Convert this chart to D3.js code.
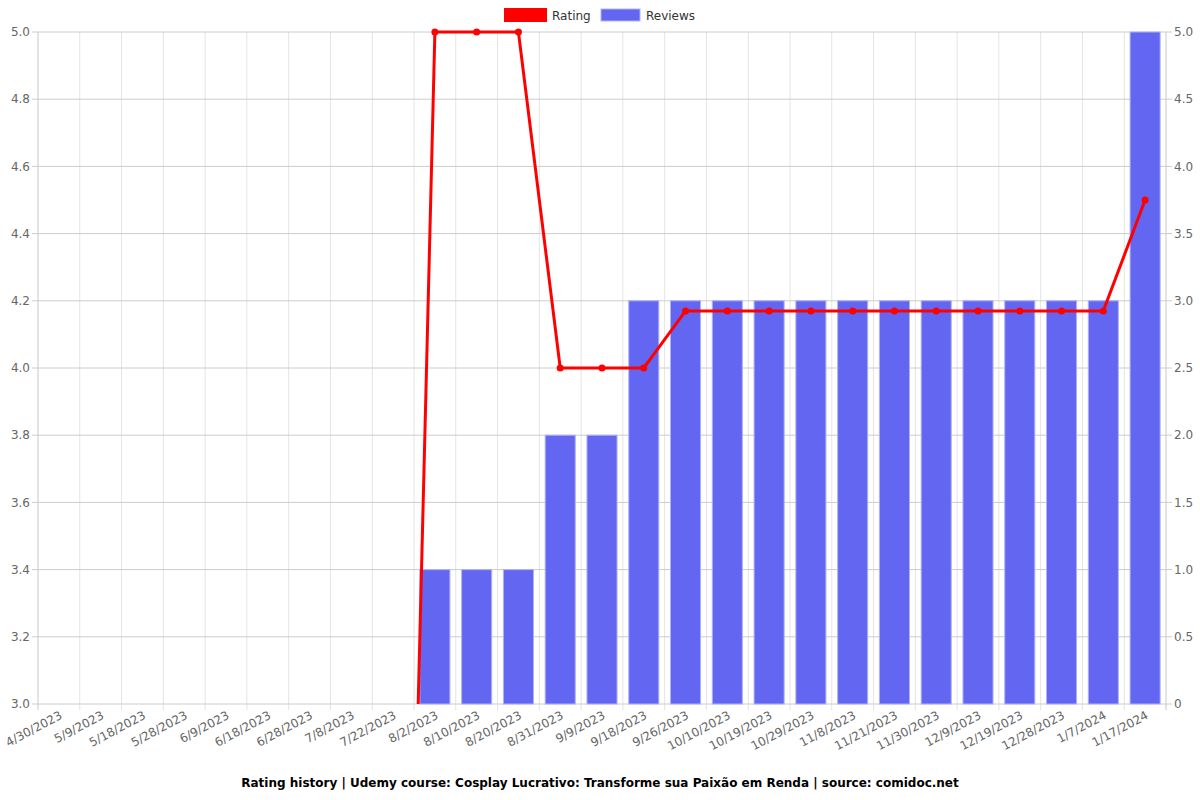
<!DOCTYPE html>
<html>
<head>
<meta charset="utf-8">
<script src="https://cdn.jsdelivr.net/npm/d3@7"></script>
<style>
body { margin: 0; background: #fff; }
text { font-family: "DejaVu Sans", sans-serif; }
</style>
</head>
<body>
<div id="chart"></div>
<script>
var dates = ["4/30/2023", "5/9/2023", "5/18/2023", "5/28/2023", "6/9/2023", "6/18/2023", "6/28/2023",
	"7/8/2023", "7/22/2023", "8/2/2023", "8/10/2023", "8/20/2023", "8/31/2023", "9/9/2023", "9/18/2023",
	"9/26/2023", "10/10/2023", "10/19/2023", "10/29/2023", "11/8/2023", "11/21/2023", "11/30/2023",
	"12/9/2023", "12/19/2023", "12/28/2023", "1/7/2024", "1/17/2024"];
var ratings = [0, 0, 0, 0, 0, 0, 0, 0, 0, 5, 5, 5, 4, 4, 4,
	4.17, 4.17, 4.17, 4.17, 4.17, 4.17, 4.17, 4.17, 4.17, 4.17, 4.17, 4.5];
var reviews = [0, 0, 0, 0, 0, 0, 0, 0, 0, 1, 1, 1, 2, 2, 3,
	3, 3, 3, 3, 3, 3, 3, 3, 3, 3, 3, 5];
var ratingTicks = [3.0, 3.2, 3.4, 3.6, 3.8, 4.0, 4.2, 4.4, 4.6, 4.8, 5.0];
var reviewTicks = [0, 0.5, 1.0, 1.5, 2.0, 2.5, 3.0, 3.5, 4.0, 4.5, 5.0];
var title = "Rating history | Udemy course: Cosplay Lucrativo: Transforme sua Paixão em Renda | source: comidoc.net";

function drawChart() {
	var width = 1200, height = 800;
	var plotLeft = 38, plotRight = 1166, plotTop = 32, plotBottom = 704;

	var svg = d3.select("#chart").append("svg")
			.attr("width", width)
			.attr("height", height);

	var x = d3.scaleBand().domain(dates).range([plotLeft, plotRight]);
	var yRating = d3.scaleLinear().domain([3, 5]).range([plotBottom, plotTop]);
	var yReviews = d3.scaleLinear().domain([0, 5]).range([plotBottom, plotTop]);

	// grid
	svg.append("g").selectAll("line")
			.data(dates.concat([null]))
		.enter().append("line")
			.attr("x1", function(d, i) { return plotLeft + i * x.bandwidth(); })
			.attr("x2", function(d, i) { return plotLeft + i * x.bandwidth(); })
			.attr("y1", plotTop)
			.attr("y2", plotBottom + 6)
			.attr("stroke", function(d, i) { return i === 0 || i === dates.length ? "#c8c8c8" : "#e4e4e4"; })
			.attr("stroke-width", 1);

	svg.append("g").selectAll("line")
			.data(ratingTicks)
		.enter().append("line")
			.attr("x1", plotLeft - 6)
			.attr("x2", plotRight + 6)
			.attr("y1", function(d) { return yRating(d); })
			.attr("y2", function(d) { return yRating(d); })
			.attr("stroke", "#cccccc")
			.attr("stroke-width", 1);

	// bars
	svg.append("g").selectAll("rect")
			.data(reviews)
		.enter().append("rect")
			.attr("x", function(d, i) { return x(dates[i]) + x.bandwidth() * 0.14; })
			.attr("width", x.bandwidth() * 0.72)
			.attr("y", function(d) { return yReviews(d); })
			.attr("height", function(d) { return plotBottom - yReviews(d); })
			.attr("fill", "#6366f1")
			.attr("stroke", "#b0b2f8")
			.attr("stroke-width", 1);

	var tickStyle = function(sel) {
		sel.attr("fill", "#666").style("font-size", "12px");
	};

	svg.append("g").selectAll("text")
			.data(ratingTicks)
		.enter().append("text")
			.attr("x", plotLeft - 8)
			.attr("y", function(d) { return yRating(d); })
			.attr("dy", "0.35em")
			.attr("text-anchor", "end")
			.text(function(d) { return d.toFixed(1); })
			.call(tickStyle);

	svg.append("g").selectAll("text")
			.data(reviewTicks)
		.enter().append("text")
			.attr("x", plotRight + 8)
			.attr("y", function(d) { return yReviews(d); })
			.attr("dy", "0.35em")
			.text(function(d) { return d === 0 ? "0" : d.toFixed(1); })
			.call(tickStyle);

	svg.append("g").selectAll("text")
			.data(dates)
		.enter().append("text")
			.attr("transform", function(d) {
				return "translate(" + (x(d) + x.bandwidth() / 2 + 4) + "," + (plotBottom + 14) + ") rotate(-28)";
			})
			.attr("text-anchor", "end")
			.text(function(d) { return d; })
			.call(tickStyle);

	// rating line, clipped to plot area
	svg.append("clipPath").attr("id", "plot")
		.append("rect")
			.attr("x", plotLeft)
			.attr("y", plotTop - 5)
			.attr("width", plotRight - plotLeft)
			.attr("height", plotBottom - plotTop + 5);

	var pts = ratings.map(function(v, i) { return [x(dates[i]) + x.bandwidth() / 2, yRating(v)]; });

	var g = svg.append("g").attr("clip-path", "url(#plot)");
	g.append("path")
			.attr("d", d3.line()(pts))
			.attr("fill", "none")
			.attr("stroke", "#ff0000")
			.attr("stroke-width", 3);

	g.selectAll("circle")
			.data(pts.filter(function(p, i) { return ratings[i] >= 3; }))
		.enter().append("circle")
			.attr("cx", function(d) { return d[0]; })
			.attr("cy", function(d) { return d[1]; })
			.attr("r", 3.5)
			.attr("fill", "#ff0000");

	// legend
	var legend = svg.append("g");
	legend.append("rect").attr("x", 504).attr("y", 8).attr("width", 43).attr("height", 14).attr("fill", "#ff0000");
	legend.append("text").attr("x", 552).attr("y", 20).text("Rating").attr("fill", "#333").style("font-size", "12px");
	legend.append("rect").attr("x", 601).attr("y", 9).attr("width", 39).attr("height", 12)
		.attr("fill", "#6366f1").attr("stroke", "#b0b2f8");
	legend.append("text").attr("x", 646).attr("y", 20).text("Reviews").attr("fill", "#333").style("font-size", "12px");

	// title
	svg.append("text")
			.attr("x", width / 2)
			.attr("y", 787)
			.attr("text-anchor", "middle")
			.style("font-size", "12px")
			.style("font-weight", "bold")
			.attr("fill", "#000")
			.text(title);
}

drawChart();
</script>
</body>
</html>
